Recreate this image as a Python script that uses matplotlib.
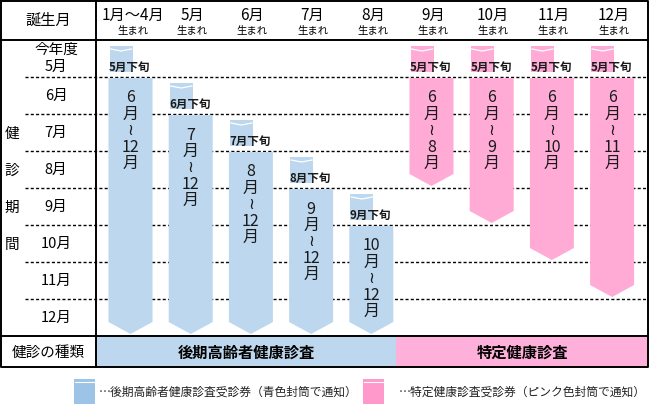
import matplotlib.pyplot as plt
from matplotlib.patches import Polygon, Rectangle

plt.rcParams['font.family'] = ['Noto Sans CJK JP', 'DejaVu Sans']

# data
birth_months = ["1月～4月", "5月", "6月", "7月", "8月", "9月", "10月", "11月", "12月"]
notice_months = [5, 6, 7, 8, 9, 5, 5, 5, 5]
start_months = [6, 7, 8, 9, 10, 6, 6, 6, 6]
end_months = [12, 12, 12, 12, 12, 8, 9, 10, 11]
exam_kinds = ["後期", "後期", "後期", "後期", "後期", "特定", "特定", "特定", "特定"]
row_labels = ["今年度\n5月", "6月", "7月", "8月", "9月", "10月", "11月", "12月"]
kind_names = {"後期": "後期高齢者健康診査", "特定": "特定健康診査"}
legend_texts = {"後期": "…後期高齢者健康診査受診券（青色封筒で通知）",
                "特定": "…特定健康診査受診券（ピンク色封筒で通知）"}

bar_colors = {"後期": "#bdd7ee", "特定": "#ffabd6"}
band_colors = {"後期": "#bdd7ee", "特定": "#ffb0da"}
legend_colors = {"後期": "#9dc3e6", "特定": "#ff99cc"}

# layout (pixels)
W, H = 651, 413
GRID_TOP = 40
ROW_H = 37
LEFT = 96
RIGHT = 648
TABLE_BOTTOM = 367
BAR_W = 44


def row_top(m):
    return GRID_TOP + (m - 5) * ROW_H


def col_center(i):
    return 130.5 + i * 60.2


fig = plt.figure(figsize=(W / 100, H / 100), dpi=100)
ax = fig.add_axes([0, 0, 1, 1])
ax.set_xlim(0, W)
ax.set_ylim(H, 0)
ax.axis('off')

grid_bottom = row_top(13)

# dotted month lines
for m in range(6, 13):
    ax.plot([25, RIGHT], [row_top(m), row_top(m)], color='black', lw=1,
            ls=(0, (2.2, 1.6)), zorder=1)

# bars with arrow tips + envelope tabs
for i in range(len(birth_months)):
    c = col_center(i)
    x0, x1 = c - BAR_W / 2, c + BAR_W / 2
    color = bar_colors[exam_kinds[i]]
    top = row_top(start_months[i]) + 1
    tip = row_top(end_months[i] + 1) - 2
    shoulder = tip - 12
    ax.add_patch(Polygon([(x0, top), (x1, top), (x1, shoulder), (c, tip),
                          (x0, shoulder)], closed=True, fc=color, ec='none',
                         zorder=2))

    # envelope
    ty0 = row_top(notice_months[i]) + 6
    ty1 = row_top(notice_months[i]) + 32
    tx0 = x0 + 1
    tx1 = x0 + 24
    ax.add_patch(Rectangle((tx0, ty0), tx1 - tx0, ty1 - ty0, fc=color,
                           ec='none', zorder=2))
    ax.plot([tx0 + 1, (tx0 + tx1) / 2, tx1 - 1], [ty0 + 3, ty0 + 5, ty0 + 3],
            color='white', lw=0.9, zorder=3)
    ax.text(x0 + 0.5, row_top(notice_months[i]) + 27, f"{notice_months[i]}月下旬",
            fontsize=8.3, fontweight='bold', color='#1a1a1a', ha='left',
            va='center', zorder=4)

    # vertical period text, one line per character group
    period = "\n".join([str(start_months[i]), "月", "≀",
                        str(end_months[i]), "月"])
    ax.text(c, top + 11.5, period, fontsize=11.5, ha='center', va='top',
            ma='center', linespacing=0.96, color='#1a1a1a', zorder=4)

# header
ax.text(LEFT / 2, 20, "誕生月", fontsize=11, ha='center', va='center')
for i, b in enumerate(birth_months):
    cx = col_center(i) + (2.5 if i == 0 else 1.5)
    ax.text(cx, 15, b, fontsize=11, ha='center', va='center')
    ax.text(cx, 31, "生まれ", fontsize=7.5, ha='center', va='center')

# row labels
for k, lab in enumerate(row_labels):
    yc = GRID_TOP + k * ROW_H + ROW_H / 2
    if "\n" in lab:
        a, b = lab.split("\n")
        ax.text(56, yc - 9, a, fontsize=10.5, ha='center', va='center')
        ax.text(56, yc + 8, b, fontsize=10.5, ha='center', va='center')
    else:
        ax.text(56, yc, lab, fontsize=10.5, ha='center', va='center')

for k, ch in enumerate("健診期間"):
    ax.text(12, 134 + k * 37, ch, fontsize=10.5, ha='center', va='center')

# exam kind band
kinds = list(dict.fromkeys(exam_kinds))
split_x = (col_center(4) + col_center(5)) / 2 - 5
spans = {"後期": (LEFT, split_x), "特定": (split_x, RIGHT)}
for kd in kinds:
    a, b = spans[kd]
    ax.add_patch(Rectangle((a, grid_bottom), b - a, TABLE_BOTTOM - grid_bottom,
                           fc=band_colors[kd], ec='none', zorder=1))
    ax.text((a + b) / 2, (grid_bottom + TABLE_BOTTOM) / 2 + 1, kind_names[kd],
            fontsize=11, fontweight='bold', ha='center', va='center', zorder=4)
ax.text(LEFT / 2, (grid_bottom + TABLE_BOTTOM) / 2 + 1, "健診の種類",
        fontsize=10.5, ha='center', va='center')

# table lines
lw = 1.4
ax.plot([1, RIGHT, RIGHT, 1, 1], [1, 1, TABLE_BOTTOM, TABLE_BOTTOM, 1],
        color='black', lw=lw, zorder=5)
ax.plot([1, RIGHT], [GRID_TOP, GRID_TOP], color='black', lw=lw, zorder=5)
ax.plot([1, RIGHT], [grid_bottom, grid_bottom], color='black', lw=lw, zorder=5)
ax.plot([LEFT, LEFT], [1, TABLE_BOTTOM], color='black', lw=lw, zorder=5)

# legend
leg_x = {"後期": 74, "特定": 363}
leg_text_x = {"後期": 99, "特定": 399}
for kd in kinds:
    lx = leg_x[kd]
    ax.add_patch(Rectangle((lx, 379), 21, 25, fc=legend_colors[kd], ec='none'))
    ax.plot([lx + 1, lx + 20], [382, 382], color='white', lw=0.8)
    ax.text(leg_text_x[kd], 392, legend_texts[kd], fontsize=8.5, ha='left',
            va='center', color='#222222')

fig.savefig("out.png", dpi=100)
